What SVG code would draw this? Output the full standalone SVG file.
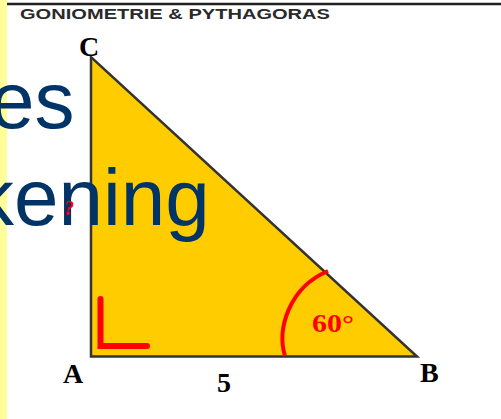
<svg xmlns="http://www.w3.org/2000/svg" width="501" height="419" viewBox="0 0 501 419">
<style>
.lbl{font-family:"Liberation Serif","Times New Roman",serif;font-weight:bold;font-size:28px;fill:#000}
.big{font-family:"Liberation Sans",Arial,sans-serif;font-size:80px;fill:#003366}
.red{fill:none;stroke:#ff0000}
</style>
<rect x="0" y="0" width="501" height="419" fill="#ffffff"/>
<rect id="strip" x="0" y="0" width="7" height="419" fill="#ffff99"/>
<line id="topline" x1="7" y1="4" x2="501" y2="4" stroke="#222" stroke-width="2.5"/>
<text id="header" x="20" y="19" font-family="Liberation Sans, Arial, sans-serif" font-weight="bold" font-size="14" fill="#2a2a2a" textLength="310" lengthAdjust="spacingAndGlyphs">GONIOMETRIE &amp; PYTHAGORAS</text>
<g id="triangle">
<polygon points="91,57 91,356.5 417,356.5" fill="#ffcc00" stroke="#333" stroke-width="2.5" stroke-linejoin="miter"/>
</g>
<g id="right-angle">
<path class="red" d="M100.5 299 V346 H147" stroke-width="6" stroke-linecap="round" stroke-linejoin="miter"/>
</g>
<g id="angle-arc">
<path class="red" d="M285 356 C277 330 288 288 328 271" stroke-width="4"/>
<text x="312" y="332" font-family="Liberation Serif, Times New Roman, serif" font-weight="bold" font-size="26" fill="#ff0000" textLength="42" lengthAdjust="spacingAndGlyphs">60°</text>
</g>
<g id="title">
<text class="big" x="-10" y="128">es</text>
<text class="big" x="-26" y="225">kening</text>
</g>
<g id="mark">
<text x="64" y="215" font-family="Liberation Serif, Times New Roman, serif" font-weight="bold" font-style="italic" font-size="20" fill="#ff0000">?</text>
</g>
<g id="labels">
<text class="lbl" x="79" y="56">C</text>
<text class="lbl" x="63" y="383">A</text>
<text class="lbl" x="420" y="382">B</text>
<text class="lbl" x="217" y="392">5</text>
</g>
<g id="connectors"/>
</svg>
